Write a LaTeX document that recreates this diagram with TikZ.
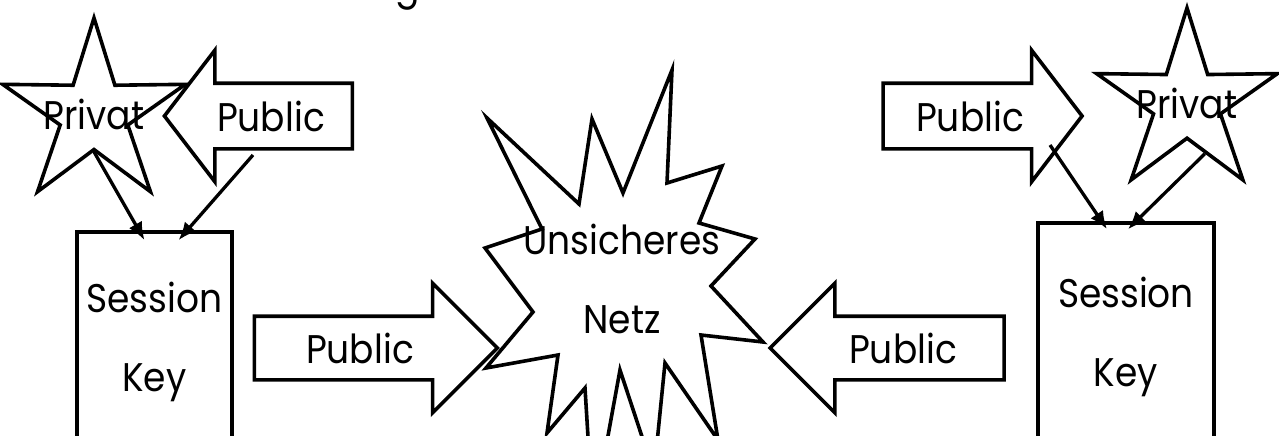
\documentclass[tikz,border=0pt]{standalone}
\usepackage{fontspec}
\setmainfont{Poppins}[FakeStretch=0.9]
\usetikzlibrary{arrows.meta,shapes.geometric,shapes.arrows,calc}

\tikzset{
    starbox/.style={
        star,star points=5,star point ratio=2.7,draw,line width=3.6pt,
        minimum size=#1,inner sep=0pt
    },
    starbox/.default=192pt,
    blockarrow/.style={
        single arrow,draw,line width=3.6pt,inner xsep=0pt,inner ysep=30pt,
        single arrow head extend=33pt,single arrow head indent=0pt
    },
    blockright/.style={blockarrow},
    blockleft/.style={blockarrow,shape border rotate=180},
    keybox/.style={
        draw,line width=3.6pt,align=center,inner sep=0pt
    },
    link/.style={
        -{Latex[length=18pt,width=15pt]},line width=3.3pt
    }
}

\begin{document}
\begin{tikzpicture}[x=1pt,y=-1pt,font=\fontsize{40}{79}\selectfont]
\useasboundingbox (0,0) rectangle (1279,436);
\clip (0,0) rectangle (1279,436);

% title, only the descender is left in view
\node[anchor=base,inner sep=0pt] (title) at (408,0) {g};

% left side
\node[starbox,label=center:Privat] (privL) at (94,114) {};
\node[blockleft,minimum height=188pt,inner ysep=31pt,single arrow tip angle=105,
label=center:Public] (pubTL) at (271,116) {};
\node[keybox,minimum width=155pt,minimum height=220pt] (skL) at (154.5,342)
{Session\\Key};
\node[blockright,minimum height=243pt,label=center:Public] (pubBL) at (360,348) {};

% unsafe network
\draw[line width=3.6pt] (487,118) -- (579,204) -- (592,119) -- (623,193)
-- (672,70) -- (667,183) -- (722,166) -- (699,223) -- (755,239)
-- (711,286) -- (763,342) -- (701,335) -- (718,440) -- (665,363)
-- (654,473) -- (620,370) -- (593,518) -- (585,388) -- (547,433)
-- (558,355) -- (486,368) -- (533,312) -- (485,248) -- (542,229) -- cycle;
\node[align=center,inner sep=0pt] (netz) at (622,279) {Unsicheres\\Netz};

% right side
\node[blockright,minimum height=199pt,inner ysep=31pt,single arrow tip angle=105,
label=center:Public] (pubTR) at (970,116) {};
\node[starbox=190pt,label=center:Privat] (privR) at (1187,103) {};
\node[keybox,minimum width=176pt,minimum height=228pt] (skR) at (1126,337)
{Session\\Key};
\node[blockleft,minimum height=234pt,label=center:Public] (pubBR) at (903,348) {};

\draw[link] (privL.inner point 3) -- ([xshift=-10pt,yshift=-10pt]skL.north);
\draw[link] ([xshift=-18pt,yshift=-39pt]pubTL.center)
-- ([xshift=24pt,yshift=-10pt]skL.north);
\draw[link] ([xshift=80pt,yshift=-29pt]pubTR.center)
-- ([xshift=-19pt,yshift=-8pt]skR.north);
\draw[link] ($(privR.inner point 3)!0.3!(privR.outer point 4)$)
-- ([xshift=2pt,yshift=-8pt]skR.north);

\end{tikzpicture}
\end{document}
